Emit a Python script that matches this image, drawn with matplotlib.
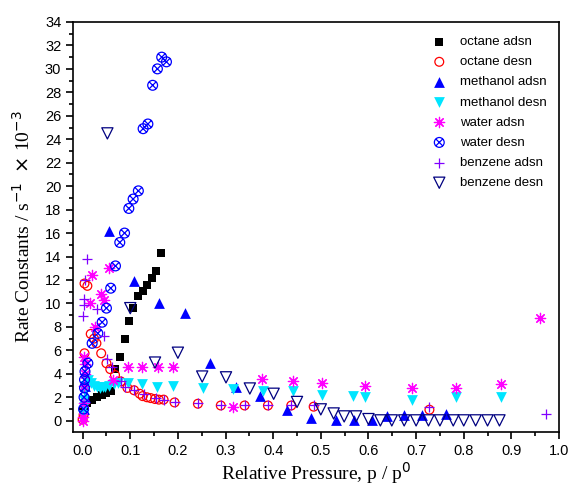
import matplotlib
matplotlib.use("Agg")
import matplotlib.pyplot as plt
from matplotlib.path import Path
from matplotlib.ticker import MultipleLocator
import numpy as np

# data (x = p/p0, y = rate constant x 1e-3 s^-1)
oct_ads_x = [0.0, 0.005, 0.01, 0.02, 0.03, 0.04, 0.05, 0.06, 0.067, 0.078, 0.088, 0.097,
             0.106, 0.116, 0.126, 0.136, 0.146, 0.155, 0.165]
oct_ads_y = [0.8, 1.2, 1.5, 1.8, 2.0, 2.2, 2.4, 2.5, 4.4, 5.4, 7.0, 8.5,
             9.6, 10.6, 11.1, 11.6, 12.2, 12.8, 14.3]

oct_des_x = [0.0, 0.002, 0.004, 0.01, 0.004, 0.017, 0.024, 0.029, 0.039, 0.05, 0.058,
             0.068, 0.08, 0.094, 0.108, 0.12, 0.126, 0.135, 0.143, 0.152, 0.16, 0.17,
             0.193, 0.242, 0.29, 0.34, 0.389, 0.438, 0.485, 0.728]
oct_des_y = [0.1, 0.5, 11.7, 11.5, 5.75, 7.4, 7.0, 6.6, 5.75, 4.9, 4.4,
             3.9, 3.35, 2.8, 2.6, 2.3, 2.1, 2.0, 1.93, 1.85, 1.8, 1.8,
             1.56, 1.45, 1.3, 1.3, 1.3, 1.3, 1.2, 0.94]

meth_ads_x = [0.002, 0.004, 0.006, 0.055, 0.108, 0.16, 0.214, 0.267, 0.322, 0.373, 0.428,
              0.48, 0.532, 0.569, 0.607, 0.639, 0.674, 0.712, 0.763]
meth_ads_y = [1.0, 2.0, 3.0, 16.2, 11.9, 10.0, 9.2, 4.96, 2.86, 2.1, 0.88,
              0.23, 0.08, 0.08, 0.03, 0.37, 0.5, 0.5, 0.6]

meth_des_x = [0.0, 0.002, 0.003, 0.004, 0.006, 0.008, 0.012, 0.018, 0.024, 0.03, 0.036,
              0.042, 0.048, 0.055, 0.065, 0.075, 0.095, 0.125, 0.157, 0.189, 0.253,
              0.316, 0.379, 0.441, 0.502, 0.567, 0.593, 0.691, 0.784, 0.878]
meth_des_y = [0.5, 1.2, 1.8, 2.5, 3.0, 3.4, 3.5, 3.2, 3.0, 2.9, 2.8,
              2.9, 2.85, 3.0, 3.1, 3.2, 3.2, 3.15, 2.9, 3.0, 2.78,
              2.7, 2.5, 2.5, 2.2, 2.07, 2.0, 1.8, 2.0, 2.0]

wat_ads_x = [0.0, 0.001, 0.002, 0.003, 0.004, 0.005, 0.003, 0.015, 0.02, 0.027, 0.038,
             0.045, 0.055, 0.064, 0.095, 0.125, 0.158, 0.19, 0.316, 0.377, 0.441,
             0.502, 0.593, 0.691, 0.784, 0.878, 0.96]
wat_ads_y = [0.0, 0.3, 1.5, 3.0, 4.0, 4.8, 5.4, 10.0, 12.4, 8.0, 10.8,
             10.3, 13.0, 3.5, 4.6, 4.55, 4.55, 4.55, 1.16, 3.55, 3.35,
             3.25, 2.92, 2.78, 2.78, 3.15, 8.8]

wat_des_x = [0.002, 0.003, 0.004, 0.004, 0.005, 0.011, 0.02, 0.032, 0.041, 0.05, 0.059,
             0.069, 0.078, 0.088, 0.097, 0.106, 0.117, 0.127, 0.137, 0.147, 0.157,
             0.166, 0.176]
wat_des_y = [1.0, 2.0, 2.8, 3.5, 4.2, 4.9, 6.6, 7.45, 8.4, 9.6, 11.3,
             13.2, 15.2, 16.0, 18.1, 18.9, 19.6, 24.9, 25.3, 28.6, 30.0,
             31.0, 30.6]

benz_ads_x = [0.001, 0.003, 0.003, 0.006, 0.01, 0.031, 0.045, 0.052, 0.062, 0.08, 0.09,
              0.108, 0.129, 0.153, 0.17, 0.193, 0.242, 0.29, 0.34, 0.389, 0.438,
              0.485, 0.728, 0.972]
benz_ads_y = [8.9, 9.9, 10.4, 12.0, 13.75, 9.5, 7.2, 5.3, 4.55, 3.35, 2.9,
              2.6, 2.3, 1.93, 1.8, 1.6, 1.5, 1.35, 1.35, 1.35, 1.35,
              1.3, 1.16, 0.57]

benz_des_x = [0.052, 0.1, 0.152, 0.2, 0.251, 0.301, 0.351, 0.401, 0.45, 0.5, 0.527,
              0.549, 0.574, 0.6, 0.625, 0.649, 0.675, 0.7, 0.726, 0.75, 0.778,
              0.8, 0.825, 0.85, 0.875]
benz_des_y = [24.5, 9.6, 4.96, 5.8, 3.77, 3.7, 2.75, 2.3, 1.6, 0.97, 0.62,
              0.37, 0.37, 0.14, 0.03, 0.03, 0.03, 0.03, 0.03, 0.03, 0.03,
              0.03, 0.03, 0.03, 0.03]

# circle with an x inside, for "water desn"
d = 0.7071
circx = Path.make_compound_path(
    Path.unit_circle(),
    Path([(-d, -d), (d, d)], [Path.MOVETO, Path.LINETO]),
    Path([(-d, d), (d, -d)], [Path.MOVETO, Path.LINETO]),
)

plt.rcParams['font.family'] = 'Liberation Sans'

fig = plt.figure(figsize=(5.71, 4.88), dpi=100)
ax = fig.add_axes([0.128, 0.115, 0.851, 0.840])

ax.scatter(oct_ads_x, oct_ads_y, marker='s', s=36, c='black', lw=0, label='octane adsn')
ax.scatter(oct_des_x, oct_des_y, marker='o', s=40, facecolors='none', edgecolors='red',
           lw=0.9, label='octane desn')
ax.scatter(meth_ads_x, meth_ads_y, marker='^', s=60, c='#0000ff', lw=0, label='methanol adsn')
ax.scatter(meth_des_x, meth_des_y, marker='v', s=60, c='#00e5ff', lw=0, label='methanol desn')
ax.scatter(wat_ads_x, wat_ads_y, marker=(8, 2, 0), s=55, c='#ff00ff', lw=0.9, label='water adsn')
ax.scatter(wat_des_x, wat_des_y, marker=circx, s=50, facecolors='none', edgecolors='#0000ff',
           lw=0.9, label='water desn')
ax.scatter(benz_ads_x, benz_ads_y, marker='+', s=60, c='#8000ff', lw=0.9, label='benzene adsn')
ax.scatter(benz_des_x, benz_des_y, marker='v', s=65, facecolors='none', edgecolors='#000080',
           lw=0.9, label='benzene desn')

ax.set_xlim(-0.02, 1.0)
ax.set_ylim(-0.95, 34)
ax.xaxis.set_major_locator(MultipleLocator(0.1))
ax.xaxis.set_minor_locator(MultipleLocator(0.05))
ax.yaxis.set_major_locator(MultipleLocator(2))
ax.yaxis.set_minor_locator(MultipleLocator(1))
ax.xaxis.set_major_formatter(plt.FuncFormatter(lambda v, p: '%.1f' % v))
ax.tick_params(which='major', direction='out', length=5, width=1.2, labelsize=10.5)
ax.tick_params(which='minor', direction='out', length=3, width=1.2)
ax.tick_params(top=False, right=False)
for sp in ax.spines.values():
    sp.set_linewidth(1.2)

ax.set_xlabel('Relative Pressure, p / p$^0$', family='Liberation Serif', fontsize=14, labelpad=2)
ax.set_ylabel('Rate Constants / s$^{-1}$  $\\times$ 10$^{-3}$', family='Liberation Serif',
              fontsize=14, labelpad=8)

ax.legend(loc='upper right', bbox_to_anchor=(1.0, 0.995), frameon=False, fontsize=9.5,
          handletextpad=0.6, labelspacing=0.6, scatterpoints=1)

fig.savefig('out.png', dpi=100)
